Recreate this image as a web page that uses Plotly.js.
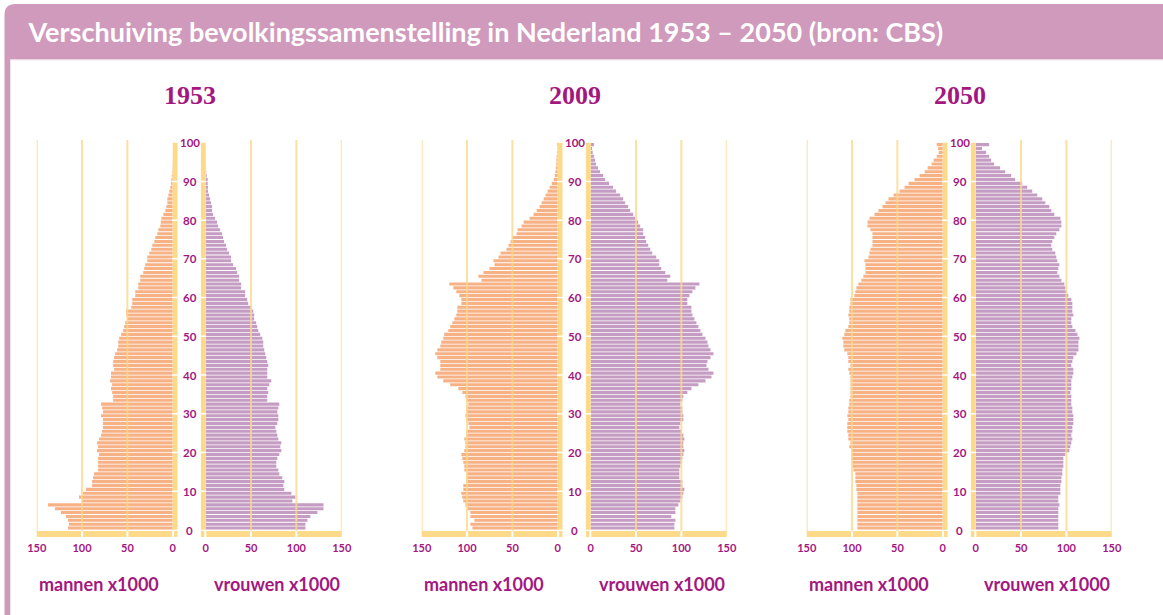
<!DOCTYPE html>
<html>
<head>
<meta charset="utf-8">
<script src="https://cdn.plot.ly/plotly-3.0.1.min.js"></script>
<style>
html,body{margin:0;padding:0;background:#ffffff;overflow:hidden}
#chart{width:1163px;height:615px}
</style>
</head>
<body>
<div id="chart"></div>
<script>
// ---------------- DATA (x1000 persons, index = age 0..99) ----------------
const ages = [0,1,2,3,4,5,6,7,8,9,10,11,12,13,14,15,16,17,18,19,20,21,22,23,24,25,26,27,28,29,
  30,31,32,33,34,35,36,37,38,39,40,41,42,43,44,45,46,47,48,49,50,51,52,53,54,55,56,57,58,59,
  60,61,62,63,64,65,66,67,68,69,70,71,72,73,74,75,76,77,78,79,80,81,82,83,84,85,86,87,88,89,
  90,91,92,93,94,95,96,97,98,99];

const years = ['1953', '2009', '2050'];

const men1953 = [115.5,114.4,115.5,117.7,123.2,129.9,137.6,100,103.3,98.9,
  95.6,88.9,88.9,87.8,86.7,82.3,82.3,82.3,82.3,81.2,
  83.4,82.3,83.4,81.2,79,77.9,76.8,76.8,76.8,79,
  76.8,77.9,79,65.7,65.7,66.8,68,66.8,69,68,
  68,64.6,65.7,65.7,64.6,63.5,61.3,60.1,60.1,59,
  56.8,54.6,53.5,52.4,50.2,51.3,51.3,45.8,44.6,44.6,
  41.3,41.3,38,38,35.8,35.8,32.5,31.4,30.3,28,
  28,25.8,23.6,22.5,20.3,19.2,17,15.9,13.7,13.2,
  12.5,10.3,8.1,7,5.9,5.9,4.8,3.7,2.6,1.8,
  1.5,1.1,0.6,0.4,0.2,0.1,0,0,0,0];

const women1953 = [110,110,112.2,115.5,123.2,129.9,129.9,95.6,98.9,94.5,
  86.7,85.6,86.7,84.5,81.2,80.1,77.9,77.9,79,81.2,
  83.4,82.3,83.4,80.1,79,77.9,76.8,79,80.1,80.1,
  79,80.1,81.2,67.9,67.9,69,67.9,70.1,72.3,67.9,
  67.9,67.9,69,67.9,66.8,65.7,64.6,63.5,63.5,62.4,
  60.1,57.9,56.8,55.7,53.5,53.5,52.4,50.2,46.9,45.8,
  43.5,43.5,39.1,39.1,36.9,36.9,34.7,33.6,30.3,28,
  28,25.8,23.6,22.5,20.3,19.2,18.1,15.9,13.7,12.5,
  10.3,8.1,7,7,5.9,4.8,3.7,2.6,2.6,2.2,
  2.2,1.1,0.6,0.4,0.2,0.1,0,0,0,0];

const men2009 = [94.1,96.3,91.9,96.3,96.3,99.6,101.8,104.1,105.2,106.3,
  104.1,104.1,100.7,100.7,100.7,103,103,104.1,105.2,106.3,
  103,101.8,101.8,103,100.7,100.7,97.4,98.5,100.7,101.8,
  100.7,100.7,98.5,100.7,101.8,105.2,109.6,118.5,126.2,132.8,
  135,129.5,129.5,129.5,132.8,135,132.8,129.5,128.4,126.2,
  125.1,120.7,118.5,116.2,114,111.8,110.7,110.7,106.3,106.3,
  108.5,111.8,115.1,119.6,84.1,87.5,81.9,75.3,69.7,70.8,
  65.3,63.1,56.5,54.2,52,49.8,45.4,44.3,39.9,37.6,
  31,26.6,23.2,19.9,17.7,15.5,13.3,11.1,8.9,6.6,
  4.4,3.3,2.6,2,1.7,1.5,1.2,0.8,0.5,0.8];

const women2009 = [92.3,92.3,93.4,88.9,93.4,93.4,96.7,98.9,101.1,102.2,
  103.3,101.1,101.1,97.8,97.8,97.8,98.9,100,101.1,102.2,
  103.3,102.2,102.2,103.3,102.2,100,97.8,98.9,102.2,102.2,
  101.1,101.1,98.9,101.1,102.2,106.6,111.1,118.8,126.6,133.2,
  135.4,129.9,127.7,128.8,132.1,135.4,132.1,129.9,128.8,126.6,
  123.2,121,118.8,116.6,114.4,112.2,111.1,111.1,106.6,106.6,
  108.9,112.2,115.5,119.9,84.5,87.8,82.3,77.9,75.6,75.6,
  72.3,67.9,65.7,63.5,61.2,60.1,57.9,57.9,54.6,52.4,
  49.1,46.9,43.5,41.3,38,35.8,32.5,28,24.7,20.3,
  15.9,13.7,10.3,8.1,5.9,4.8,3.7,2.2,1.5,3.7];

const men2050 = [94.1,94.1,94.1,94.1,94.1,94.1,94.1,94.1,94.1,94.1,
  95.2,95.2,96.3,96.3,96.3,98.5,99.6,99.6,100.7,100.7,
  100.7,103,101.8,104.1,104.1,105.2,105.2,105.2,104.1,105.2,
  104.1,104.1,103,103,101.8,101.8,101.8,101.8,101.8,101.8,
  103,104.1,101.8,104.1,104.1,105.2,108.5,109.6,109.6,110.7,
  108.5,107.4,104.1,103,103,104.1,103,103,101.8,101.8,
  97.4,96.3,95.2,93,89.7,87.5,85.2,85.2,85.2,86.3,
  81.9,80.8,79.7,77.5,77.5,77.5,77.5,79.7,83,83,
  80.8,75.3,70.8,66.4,63.1,59.8,54.2,47.6,42.1,37.6,
  31,25.5,19.9,16.6,12.2,10,6.6,4.4,5,6.6];

const women2050 = [91.1,91.1,91.1,91.1,91.1,91.1,92.3,91.1,91.1,93.4,
  93.4,93.4,94.5,94.5,95.6,95.6,96.7,96.7,96.7,98.9,
  103.3,104.4,105.5,106.6,105.5,106.6,106.6,107.7,107.7,107.7,
  106.6,106.6,105.5,105.5,105.5,104.4,105.5,105.5,105.5,106.6,
  107.7,107.7,105.5,106.6,107.7,111.1,113.3,113.3,113.3,114.4,
  112.2,110,106.6,105.5,105.5,107.7,106.6,106.6,106.6,105.5,
  102.2,100,98.9,97.8,94.5,92.3,90,91.1,92.3,90,
  88.9,87.8,84.5,83.4,84.5,86.7,88.9,92.3,94.5,94.5,
  93.4,86.7,83.4,81.2,76.8,73.4,67.9,62.4,56.8,51.3,
  43.5,39.1,32.5,26.9,20.3,17,14.8,11.4,7,14.8];

const ageTickVals = [0,10,20,30,40,50,60,70,80,90,100];
const ageTickText = ['0','10','20','30','40','50','60','70','80','90','100'];
const xTickVals = [0,50,100,150];
const xTickText = ['0','50','100','150'];
const gridVals = [50,100,150];
const sideLabels = ['mannen x1000', 'vrouwen x1000'];
const mainTitle = 'Verschuiving bevolkingssamenstelling in Nederland 1953 \u2013 2050 (bron: CBS)';

// ---------------- STYLE / LAYOUT ----------------
const W = 1163, H = 615;
const fx = p => p / W;
const fy = p => 1 - p / H;
const C_MEN = '#f6b184', C_WOMEN = '#c59cc3', C_GRID = '#fdd98a';
const C_TEXT = '#a3187f', C_HEAD = '#d09abd';
const FONT = 'Lato, "Open Sans", sans-serif';
const SERIF = '"Liberation Serif", "DejaVu Serif", serif';
const STEP = 385;
const BAND = 5.5;

const panels = [
  {men: men1953, women: women1953, year: years[0]},
  {men: men2009, women: women2009, year: years[1]},
  {men: men2050, women: women2050, year: years[2]}
];

const layout = {
  width: W, height: H,
  margin: {l: 0, r: 0, t: 0, b: 0, pad: 0},
  paper_bgcolor: '#ffffff',
  plot_bgcolor: 'rgba(0,0,0,0)',
  showlegend: false,
  hovermode: false,
  font: {family: FONT, color: C_TEXT},
  title: {
    text: mainTitle,
    font: {family: FONT, size: 27, weight: 'bold', color: '#ffffff'},
    xref: 'paper', yref: 'paper',
    x: fx(28.5), xanchor: 'left',
    y: fy(33), yanchor: 'middle'
  },
  yaxis: {domain: [fy(537.75), fy(138.8)], range: [-2, 101], visible: false, fixedrange: true},
  shapes: [],
  annotations: []
};

// page frame (header band + left border)
layout.shapes.push({
  type: 'path', xref: 'paper', yref: 'paper', layer: 'below',
  path: `M ${fx(4.5)},${fy(59)} L ${fx(4.5)},${fy(15)} Q ${fx(4.5)},${fy(4)} ${fx(15.5)},${fy(4)} L ${fx(1163)},${fy(4)} L ${fx(1163)},${fy(59)} Z`,
  fillcolor: C_HEAD, line: {width: 0}
});
layout.shapes.push({
  type: 'rect', xref: 'paper', yref: 'paper', layer: 'below',
  x0: fx(4.5), x1: fx(10.3), y0: fy(615), y1: fy(58.5),
  fillcolor: C_HEAD, line: {width: 0}
});
layout.shapes.push({
  type: 'rect', xref: 'paper', yref: 'paper', layer: 'below',
  x0: fx(10.3), x1: fx(1163), y0: fy(60.3), y1: fy(59),
  fillcolor: '#ecd4e3', line: {width: 0}
});

const traces = [];
const axisStyle = {
  anchor: 'y', showgrid: false, zeroline: false, showline: false, ticks: '',
  tickvals: xTickVals, ticktext: xTickText, fixedrange: true, ticklabelstandoff: 2,
  tickfont: {family: FONT, size: 11, weight: 'bold', color: C_TEXT}
};

panels.forEach((p, k) => {
  const off = STEP * k;
  const iL = 2 * k + 1, iR = 2 * k + 2;
  const axL = iL === 1 ? 'x' : 'x' + iL;
  const axR = 'x' + iR;
  layout['xaxis' + (iL === 1 ? '' : iL)] = Object.assign({}, axisStyle, {
    domain: [fx(36.7 + off), fx(177.7 + off)], range: [150, -BAND]
  });
  layout['xaxis' + iR] = Object.assign({}, axisStyle, {
    domain: [fx(200.7 + off), fx(341.7 + off)], range: [-BAND, 150]
  });

  traces.push({type: 'bar', orientation: 'h', x: p.men, y: ages, width: 0.8, offset: 0.1,
    xaxis: axL, yaxis: 'y', marker: {color: C_MEN, line: {width: 0}}, hoverinfo: 'skip'});
  traces.push({type: 'bar', orientation: 'h', x: p.women, y: ages, width: 0.8, offset: 0.1,
    xaxis: axR, yaxis: 'y', marker: {color: C_WOMEN, line: {width: 0}}, hoverinfo: 'skip'});

  [axL, axR].forEach(ax => {
    // yellow zero band with white tick gaps
    layout.shapes.push({type: 'rect', xref: ax, yref: 'y', layer: 'above',
      x0: 0, x1: -BAND, y0: 0.05, y1: 100, fillcolor: C_GRID, line: {width: 0}});
    ageTickVals.slice(1, -1).forEach(a => {
      layout.shapes.push({type: 'line', xref: ax, yref: 'y', layer: 'above',
        x0: 0.5, x1: -BAND - 0.5, y0: a, y1: a, line: {color: '#ffffff', width: 1.5}});
    });
    // bottom band
    layout.shapes.push({type: 'rect', xref: ax, yref: 'y', layer: 'above',
      x0: 151, x1: -BAND, y0: -0.28, y1: -1.8, fillcolor: C_GRID, line: {width: 0}});
    [-0.4, 50, 100].forEach(v => {
      layout.shapes.push({type: 'line', xref: ax, yref: 'y', layer: 'above',
        x0: v, x1: v, y0: -0.1, y1: -2, line: {color: '#ffffff', width: 2}});
    });
    // vertical grid lines drawn over the bars
    gridVals.forEach(v => {
      layout.shapes.push({type: 'line', xref: ax, yref: 'y', layer: 'above', opacity: 0.8,
        x0: v, x1: v, y0: -0.25, y1: 100.7, line: {color: C_GRID, width: 2}});
    });
  });

  // age labels between the halves
  ageTickVals.forEach((v, i) => {
    layout.annotations.push({xref: 'paper', yref: 'y', x: fx(189.5 + off), y: v,
      text: ageTickText[i], showarrow: false, xanchor: 'center', yanchor: 'middle',
      font: {family: FONT, size: 11.5, weight: 'bold', color: C_TEXT}});
  });
  // year title
  layout.annotations.push({xref: 'paper', yref: 'paper', x: fx(189.5 + off), y: fy(95.5),
    text: p.year, showarrow: false, xanchor: 'center', yanchor: 'middle',
    font: {family: SERIF, size: 26, weight: 'bold', color: C_TEXT}});
  // side labels
  layout.annotations.push({xref: axL, yref: 'paper', x: 150, y: fy(584),
    text: sideLabels[0], showarrow: false, xanchor: 'left', yanchor: 'middle',
    font: {family: FONT, size: 18, weight: 'bold', color: C_TEXT}});
  layout.annotations.push({xref: axR, yref: 'paper', x: 150, y: fy(584),
    text: sideLabels[1], showarrow: false, xanchor: 'right', yanchor: 'middle',
    font: {family: FONT, size: 18, weight: 'bold', color: C_TEXT}});
});

Plotly.newPlot('chart', traces, layout, {displayModeBar: false, staticPlot: true});
</script>
</body>
</html>
